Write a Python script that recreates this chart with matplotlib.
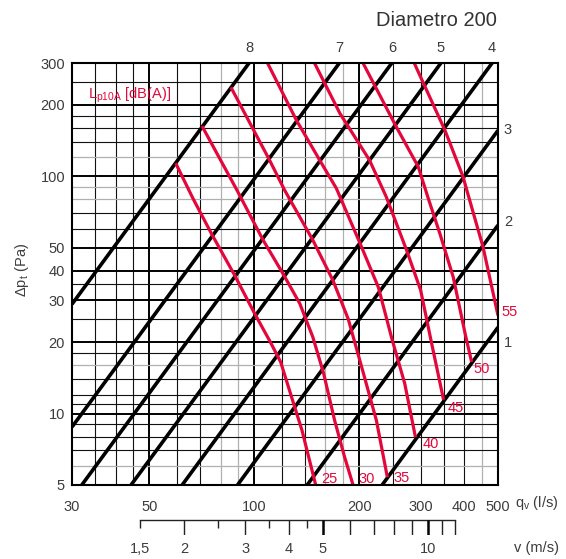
import numpy as np
import matplotlib.pyplot as plt

plt.rcParams['font.family'] = ['Liberation Sans', 'DejaVu Sans']
plt.rcParams['mathtext.fontset'] = 'custom'
plt.rcParams['mathtext.rm'] = 'Liberation Sans'

RED = '#e4073b'
GREY_TXT = '#3c3c3c'

# assi
q_ticks = [30, 50, 100, 200, 300, 400, 500]
p_ticks = [5, 10, 20, 30, 40, 50, 100, 200, 300]

# griglia
v_grid = [35, 40, 45, 60, 70, 120, 140, 250, 300, 350, 400]
v_bold = [50, 100, 200]
v_gray = [80, 90, 160, 180, 450]
h_grid = [7, 8, 9, 11, 12, 14, 18, 25, 35, 60, 70, 140, 160, 180, 250]
h_bold = [10, 20, 30, 40, 50, 100, 200]
h_gray = [6, 16, 80, 90, 120]

# curve dell'impianto (estremi)
line_ids = ['8', '7', '6', '5', '4', '3', '2', '1']
line_q0 = [30, 30, 32.0, 44.3, 62.1, 89.5, 141.8, 232.6]
line_p0 = [28.9, 8.78, 5, 5, 5, 5, 5, 5]
line_q1 = [96.6, 175.4, 248, 343, 481, 500, 500, 500]
line_p1 = [300, 300, 300, 300, 300, 156, 62.2, 23.1]
right_label_dy = [0, 0, 0, 0, 0, 0, 3, -16]

# livelli sonori Lp10A
lev_names = ['25', '30', '35', '40', '45', '50', '55']
lev_q = [
    [59.5, 66.7, 75.3, 87.8, 100.2, 110.6, 119, 128, 137, 150],
    [70.8, 89.2, 106, 120.8, 135, 147.2, 158, 170, 181.6, 192],
    [85.7, 110.6, 122.2, 147.2, 168.1, 186, 205, 224, 240.8],
    [109.1, 132, 154, 172, 200.2, 227, 248, 270, 289.9],
    [148.8, 176, 214, 239, 273.4, 300, 322, 349],
    [205, 255.4, 295.3, 315.5, 340.5, 372, 403, 420],
    [287.5, 352.3, 397, 410, 453, 500],
]
lev_p = [
    [113.5, 80.6, 57.4, 38.3, 26.4, 20.3, 16.5, 11.7, 8.5, 5.0],
    [162.7, 87.3, 53.8, 38.9, 29.1, 21, 14.8, 9.35, 6.55, 5.0],
    [237, 116.9, 87.3, 53.8, 36.4, 25, 15, 9.35, 5.39],
    [300, 172.4, 116.9, 88.8, 52.9, 34, 20.7, 13.4, 7.95],
    [300, 184, 116.9, 81.9, 48.8, 33.1, 20, 11.43],
    [300, 161.5, 109.6, 80.6, 57.4, 37.6, 21.5, 16.5],
    [300, 156, 99.4, 84, 50.3, 25.9],
]
lev_label_off = [(14, 6), (14, 6), (14, -1), (15, -7), (12, -8), (10, -7), (12, 3)]

# scala velocita' (diametro 200 mm)
area = np.pi * 0.1 ** 2
v_major = [2, 3, 4, 6, 7, 8, 9, 11, 12]
v_minor = [1.5, 2.5, 3.5, 4.5]
v_bold_t = [5, 10]
v_labels = [1.5, 2, 3, 4, 5, 10]

W, H = 566, 559
fig = plt.figure(figsize=(W / 100, H / 100), dpi=100)
L, R, T, B = 72, 498, 63, 485
ax = fig.add_axes([L / W, 1 - B / H, (R - L) / W, (B - T) / H])
ax.set_xscale('log')
ax.set_yscale('log')
ax.set_xlim(30, 500)
ax.set_ylim(5, 300)

for v in v_grid:
    ax.axvline(v, color='#111111', lw=0.8, zorder=1)
for v in v_gray:
    ax.axvline(v, color='#b0b0b0', lw=0.9, zorder=1)
for v in v_bold:
    ax.axvline(v, color='#000000', lw=1.4, zorder=1)
for h in h_grid:
    ax.axhline(h, color='#111111', lw=0.8, zorder=1)
for h in h_gray:
    ax.axhline(h, color='#b0b0b0', lw=0.9, zorder=1)
for h in h_bold:
    ax.axhline(h, color='#000000', lw=1.4, zorder=1)

for i in range(len(line_ids)):
    ax.plot([line_q0[i], line_q1[i]], [line_p0[i], line_p1[i]], color='black',
            lw=2.6, solid_capstyle='butt', zorder=3)
    if line_p1[i] >= 300:
        ax.annotate(line_ids[i], (line_q1[i], 300), xytext=(0, 15), textcoords='offset pixels',
                    ha='center', va='center', fontsize=10.5, color=GREY_TXT, annotation_clip=False)
    else:
        ax.annotate(line_ids[i], (500, line_p1[i]), xytext=(10, right_label_dy[i]),
                    textcoords='offset pixels', ha='center', va='center', fontsize=10.5,
                    color=GREY_TXT, annotation_clip=False)

for i in range(len(lev_names)):
    ax.plot(lev_q[i], lev_p[i], color=RED, lw=2.3, solid_capstyle='butt',
            solid_joinstyle='round', zorder=4)
    ax.annotate(lev_names[i], (lev_q[i][-1], lev_p[i][-1]), xytext=lev_label_off[i],
                textcoords='offset pixels', ha='center', va='center', fontsize=10.5,
                color=RED, annotation_clip=False, zorder=5)

for s in ax.spines.values():
    s.set_linewidth(1.5)
    s.set_color('black')
    s.set_zorder(6)

ax.minorticks_off()
ax.set_xticks(q_ticks)
ax.set_xticklabels([str(q) for q in q_ticks])
ax.set_yticks(p_ticks)
ax.set_yticklabels([str(p) for p in p_ticks])
ax.tick_params(axis='x', length=0, pad=11, labelsize=10.5, labelcolor=GREY_TXT)
ax.tick_params(axis='y', length=0, pad=5, labelsize=10.5, labelcolor=GREY_TXT)
ax.minorticks_off()

ax.text((537 - L) / (R - L), (B - 503) / (B - T), r'q$_{\mathrm{v}}$ (l/s)', transform=ax.transAxes,
        ha='center', va='center', fontsize=10.5, color=GREY_TXT)
ax.text((22 - L) / (R - L), (B - 270) / (B - T), r'$\Delta$p$_{\mathrm{t}}$ (Pa)', transform=ax.transAxes,
        ha='center', va='center', rotation=90, fontsize=10.5, color=GREY_TXT)
ax.text((88 - L) / (R - L), (B - 95) / (B - T), r'L$_{\mathrm{p10A}}$ [dB(A)]', transform=ax.transAxes,
        ha='left', va='center', fontsize=10.5, color=RED, zorder=5)
fig.text(497 / W, 1 - 20 / H, 'Diametro 200', ha='right', va='center', fontsize=14.5,
         color='#333333', family=['Liberation Sans Narrow', 'Liberation Sans'])

# scala della velocita'
ax2 = fig.add_axes([L / W, 1 - 535.3 / H, (R - L) / W, 15 / H])
ax2.set_xscale('log')
ax2.set_xlim(30, 500)
ax2.set_ylim(0, 1)
ax2.axis('off')
qv = lambda v: np.array(v) * 1000 * area
ax2.plot(qv([1.5, 12]), [1, 1], color='#222222', lw=1.0, clip_on=False)
ax2.vlines(qv(v_major), 0, 1, color='#222222', lw=1.0)
ax2.vlines(qv(v_minor), 0.5, 1, color='#222222', lw=1.0)
ax2.vlines(qv(v_bold_t), 0, 1, color='#000000', lw=1.8)
for v in v_labels:
    ax2.text(qv(v), -0.9, str(v).replace('.', ',').replace(',0', ''), ha='center', va='center',
             fontsize=10.5, color=GREY_TXT)
fig.text(537 / W, 1 - 548 / H, 'v (m/s)', ha='center', va='center', fontsize=10.5, color=GREY_TXT)

fig.savefig('out.png', dpi=100)
